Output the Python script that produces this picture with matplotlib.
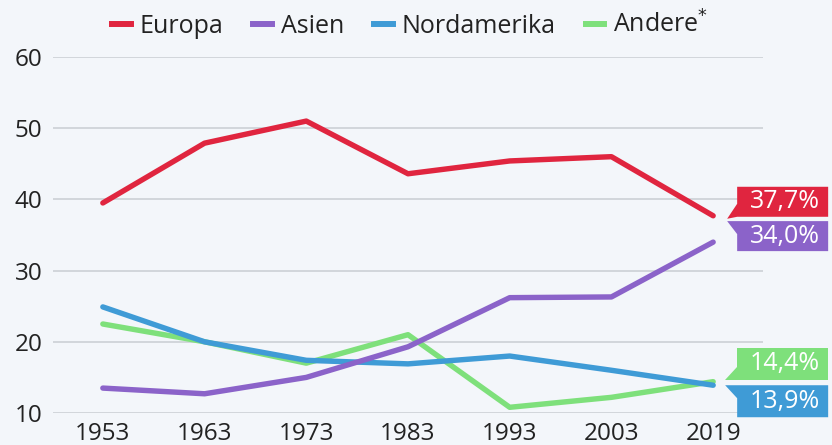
import matplotlib
matplotlib.use("Agg")
import matplotlib.pyplot as plt
from matplotlib.patches import Polygon

plt.rcParams['font.family'] = ['Open Sans', 'DejaVu Sans']

years = ["1953", "1963", "1973", "1983", "1993", "2003", "2019"]
europa = [39.5, 47.9, 51.0, 43.6, 45.4, 46.0, 37.7]
asien = [13.5, 12.7, 15.0, 19.3, 26.2, 26.3, 34.0]
nordamerika = [24.9, 20.0, 17.4, 16.9, 18.0, 16.0, 13.9]
andere = [22.5, 20.0, 17.0, 21.0, 10.8, 12.2, 14.4]
series_names = ["Europa", "Asien", "Nordamerika", "Andere$^{*}$"]
end_labels = ["37,7%", "34,0%", "13,9%", "14,4%"]
yticks = [10, 20, 30, 40, 50, 60]

colors = ["#e0253f", "#8b63c9", "#3f9bd6", "#7ee07b"]
bg = "#f3f6fa"

W, H = 832, 445
fig = plt.figure(figsize=(W / 100, H / 100), dpi=100, facecolor=bg)
ax = fig.add_axes([53 / W, (H - 413) / H, (763 - 53) / W, (413 - 57) / H])
ax.set_facecolor(bg)

x = list(range(len(years)))
data = [europa, asien, nordamerika, andere]
for z, i in enumerate([3, 2, 1, 0]):
    ax.plot(x, data[i], color=colors[i], lw=3.9, solid_capstyle='round',
            solid_joinstyle='round', zorder=3 + z)

ax.set_xlim(-0.49, 6.49)
ax.set_ylim(10, 60)
ax.set_yticks(yticks)
ax.set_xticks(x)
ax.set_xticklabels(years)
ax.grid(axis='y', color='#cfd3d8', lw=1.3)
ax.set_axisbelow(True)
for s in ax.spines.values():
    s.set_visible(False)
ax.tick_params(axis='both', length=0, labelsize=17.5, colors='#222222')
ax.tick_params(axis='y', pad=7.5)
ax.tick_params(axis='x', pad=6.5)

# legend
handles = [plt.Line2D([0], [0], color=c, lw=4.3) for c in colors]
fig.legend(handles, series_names, loc='center', bbox_to_anchor=(0.493, 1 - 25 / H),
           ncol=4, frameon=False, fontsize=18, handlelength=0.75, handletextpad=0.35,
           columnspacing=1.2, labelcolor='#222222', borderpad=0, borderaxespad=0)

# end labels with pointer boxes (pixel offsets relative to endpoint)
# (tip_x, tip_y, box_bottom, box_top, tri_other_y)
shapes = {
    0: (14, -3, -1, 29, 12),
    1: (14, 21, -9, 21, 8),
    2: (12, 0, -32, 0, -13),
    3: (12, 2, 2, 34, 15),
}
label_vals = [europa[-1], asien[-1], nordamerika[-1], andere[-1]]
box_l, box_r = 24, 115
for i in range(4):
    tx, ty, bb, bt, oy = shapes[i]
    disp = ax.transData.transform((x[-1], label_vals[i]))
    if ty <= bb:
        verts = [(tx, ty), (box_l, bb), (box_r, bb), (box_r, bt), (box_l, bt), (box_l, oy)]
    else:
        verts = [(tx, ty), (box_l, oy), (box_l, bb), (box_r, bb), (box_r, bt)]
    verts = [(disp[0] + vx, disp[1] + vy) for vx, vy in verts]
    poly = Polygon(verts, closed=True, transform=None, facecolor=colors[i],
                   edgecolor='none', clip_on=False, zorder=6)
    fig.add_artist(poly)
    cx = disp[0] + (box_l + box_r) / 2 + 2
    cy = disp[1] + (bb + bt) / 2
    fig.text(cx / W, cy / H, end_labels[i], color='white', fontsize=18,
             ha='center', va='center', zorder=7)

fig.savefig("out.png", dpi=100, facecolor=bg)
